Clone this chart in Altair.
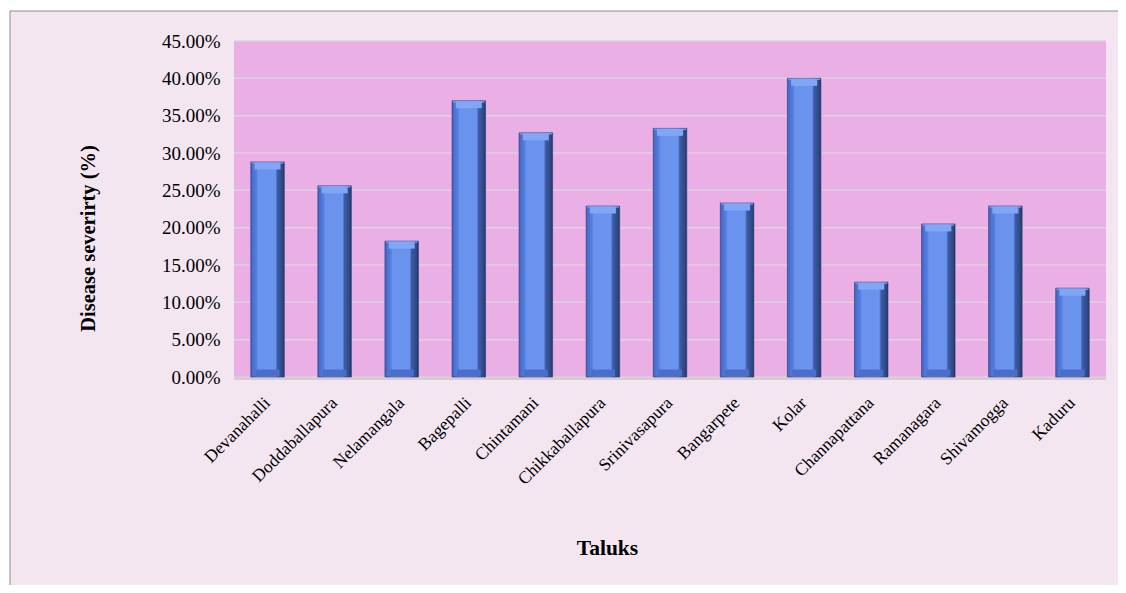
import altair as alt
import pandas as pd

taluks = ["Devanahalli", "Doddaballapura", "Nelamangala", "Bagepalli", "Chintamani",
          "Chikkaballapura", "Srinivasapura", "Bangarpete", "Kolar", "Channapattana",
          "Ramanagara", "Shivamogga", "Kaduru"]
severity = [0.288, 0.256, 0.182, 0.370, 0.327, 0.229, 0.333, 0.233, 0.400, 0.127,
            0.205, 0.229, 0.119]
y_ticks = [0.0, 0.05, 0.10, 0.15, 0.20, 0.25, 0.30, 0.35, 0.40, 0.45]

df = pd.DataFrame({"Taluk": taluks, "Severity": severity})
grid_df = pd.DataFrame({"v": y_ticks})

W, H = 872, 336
FONT = "Liberation Serif"

xscale = alt.Scale(domain=taluks, paddingInner=0.5, paddingOuter=0.25)
yscale = alt.Scale(domain=[0, 0.45], nice=False)

y_axis = alt.Axis(title="Disease severirty (%)", format=".2%",
                  values=y_ticks, tickCount=10, labelFont=FONT, labelFontSize=19,
                  labelColor="black", labelPadding=14, labelOverlap=False,
                  labelBound=False, labelFlush=False,
                  titleFont=FONT, titleFontSize=20.5, titleFontWeight="bold",
                  titleColor="black", titleAngle=-90, titleX=-146, titleY=197,
                  titleAlign="center", titleBaseline="middle",
                  domain=False, ticks=False, grid=False, zindex=1)

x_axis = alt.Axis(title="Taluks", labelAngle=-45, labelAlign="right",
                  labelBaseline="middle", labelPadding=23, labelOffset=0,
                  labelFont=FONT, labelFontSize=17.5, labelColor="black",
                  titleFont=FONT, titleFontSize=21.5, titleFontWeight="bold",
                  titleColor="black", titleX=373, titleY=171,
                  titleBaseline="middle", titleAlign="center",
                  domain=False, ticks=False, grid=False, zindex=1,
                  labelOverlap=False)

outer = alt.Chart(alt.Data(values=[{}])).mark_rect(
    fill="#f3e6f1", stroke="#8c8c8c", strokeWidth=1
).encode(
    x=alt.value(-224), x2=alt.value(W + 40),
    y=alt.value(-30), y2=alt.value(H + 240)
)

plotbg = alt.Chart(alt.Data(values=[{}])).mark_rect(fill="#eab0e6").encode(
    x=alt.value(0), x2=alt.value(W), y=alt.value(0), y2=alt.value(H)
)

grid = alt.Chart(grid_df).mark_rule(color="#dcd2dc", strokeWidth=1.5).encode(
    y=alt.Y("v:Q", scale=yscale, axis=y_axis),
    x=alt.value(0), x2=alt.value(W)
)

floor = alt.Chart(alt.Data(values=[{}])).mark_rule(color="#d6ccd6", strokeWidth=3).encode(
    x=alt.value(0), x2=alt.value(W), y=alt.value(H + 1.5)
)

bar_grad = alt.Gradient(
    gradient="linear", x1=0, x2=1, y1=0, y2=0,
    stops=[
        alt.GradientStop(offset=0, color="#3d60ba"),
        alt.GradientStop(offset=0.06, color="#4a6fcf"),
        alt.GradientStop(offset=0.18, color="#5680e0"),
        alt.GradientStop(offset=0.22, color="#6a93ee"),
        alt.GradientStop(offset=0.74, color="#6a93ee"),
        alt.GradientStop(offset=0.79, color="#3d5ca8"),
        alt.GradientStop(offset=0.94, color="#2e4884"),
        alt.GradientStop(offset=1, color="#213464"),
    ],
)

bars = alt.Chart(df).mark_bar(fill=bar_grad, stroke="#2a3d70", strokeWidth=0.6).encode(
    x=alt.X("Taluk:N", scale=xscale, sort=taluks, axis=x_axis),
    y=alt.Y("Severity:Q", scale=yscale, axis=y_axis),
)

topcap = alt.Chart(df).mark_tick(color="#82a6f5", thickness=7, size=26, yOffset=4,
                                  opacity=1).encode(
    x=alt.X("Taluk:N", scale=xscale, sort=taluks),
    y=alt.Y("Severity:Q", scale=yscale),
)

topedge = alt.Chart(df).mark_tick(color="#6f95ee", thickness=1.5, size=32, yOffset=1,
                                   opacity=1).encode(
    x=alt.X("Taluk:N", scale=xscale, sort=taluks),
    y=alt.Y("Severity:Q", scale=yscale),
)

botcap = alt.Chart(df).mark_tick(color="#4b6ecb", thickness=7, size=24, yOffset=-4,
                                  opacity=1).encode(
    x=alt.X("Taluk:N", scale=xscale, sort=taluks),
    y=alt.datum(0, scale=yscale),
)

chart = alt.layer(outer, plotbg, grid, floor, bars, topedge, topcap, botcap).properties(
    width=W, height=H,
    autosize=alt.AutoSizeParams(type="none"),
    padding={"left": 226, "top": 33, "right": 12, "bottom": 208},
    background="white",
).configure_view(stroke=None).configure_axis(labelOverlap=False)

chart.save("out.html", embed_options={"renderer": "svg", "actions": False})
